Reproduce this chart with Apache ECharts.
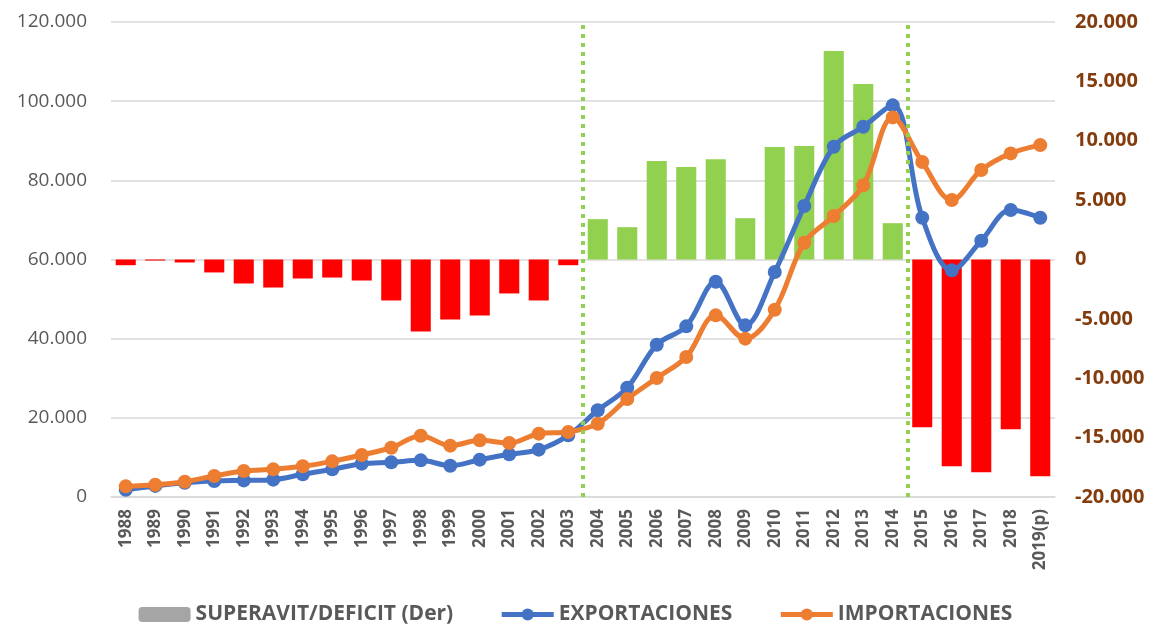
<!DOCTYPE html>
<html>
<head>
<meta charset="utf-8">
<script src="https://cdn.jsdelivr.net/npm/echarts@6/dist/echarts.min.js"></script>
<style>
  html, body { margin: 0; padding: 0; background: #fff; }
  #chart { width: 1151px; height: 626px; }
</style>
</head>
<body>
<div id="chart"></div>
<script>
// años
const years = ['1988','1989','1990','1991','1992','1993','1994','1995','1996','1997',
  '1998','1999','2000','2001','2002','2003','2004','2005','2006','2007','2008','2009',
  '2010','2011','2012','2013','2014','2015','2016','2017','2018','2019(p)'];

// saldo comercial (eje derecho)
const balance = [-480, -90, -250, -1090, -2020, -2360, -1600, -1520, -1770, -3450,
  -6060, -5050, -4710, -2860, -3450, -480, 3400, 2720, 8290, 7780, 8450, 3480,
  9470, 9550, 17560, 14780, 3060, -14130, -17420, -17920, -14300, -18260];

const exportaciones = [1850, 2800, 3600, 4040, 4200, 4380, 5730, 6990, 8420, 8760,
  9260, 7910, 9430, 10780, 11960, 15580, 21900, 27620, 38480, 43110, 54390, 43360,
  56840, 73500, 88500, 93550, 98940, 70560, 57260, 64750, 72500, 70560];

const importaciones = [2690, 3110, 3870, 5300, 6570, 6990, 7750, 9010, 10610, 12460,
  15490, 12970, 14310, 13640, 16000, 16420, 18520, 24750, 30060, 35360, 45890, 40000,
  47320, 64250, 70980, 78730, 95900, 84620, 75020, 82600, 86810, 88900];

// inicio de cada periodo (línea punteada)
const periodStarts = ['2004', '2015'];

const leftTicks = { min: 0, max: 120000, interval: 20000 };
const rightTicks = { min: -20000, max: 20000, interval: 5000 };

function miles(v) {
  return String(v).replace(/\B(?=(\d{3})+(?!\d))/g, '.');
}

const chart = echarts.init(document.getElementById('chart'));
const font = '"Open Sans", "DejaVu Sans", sans-serif';

chart.setOption({
  animation: false,
  textStyle: { fontFamily: font },
  grid: { left: 111, right: 96, top: 22, bottom: 129 },
  legend: {
    data: ['SUPERAVIT/DEFICIT (Der)', 'EXPORTACIONES', 'IMPORTACIONES'],
    top: 599,
    left: 'center',
    itemGap: 46,
    itemWidth: 52,
    itemHeight: 15,
    lineStyle: { width: 5 },
    textStyle: { fontSize: 21, fontWeight: 'bold', color: '#595959', fontFamily: font }
  },
  xAxis: [
    {
      type: 'category',
      data: years,
      axisLine: { lineStyle: { color: '#D9D9D9', width: 1.5 } },
      axisTick: { show: false },
      axisLabel: { rotate: 90, fontSize: 17, fontWeight: 'bold', color: '#595959', margin: 12 }
    },
    { type: 'value', min: 0, max: years.length, show: false }
  ],
  yAxis: [
    {
      type: 'value',
      min: leftTicks.min, max: leftTicks.max, interval: leftTicks.interval,
      axisLine: { show: false },
      axisTick: { show: false },
      splitLine: { lineStyle: { color: '#D9D9D9', width: 1.5 } },
      axisLabel: { formatter: miles, fontSize: 19, color: '#595959', margin: 24 }
    },
    {
      type: 'value',
      min: rightTicks.min, max: rightTicks.max, interval: rightTicks.interval,
      axisLine: { show: false },
      axisTick: { show: false },
      splitLine: { show: false },
      axisLabel: { formatter: miles, fontSize: 20, fontWeight: 'bold', color: '#843C0C', margin: 20 }
    }
  ],
  series: [
    {
      name: 'SUPERAVIT/DEFICIT (Der)',
      type: 'bar',
      yAxisIndex: 1,
      barWidth: '68%',
      itemStyle: { color: '#A5A5A5' },
      data: balance.map(v => ({ value: v, itemStyle: { color: v >= 0 ? '#92D050' : '#FF0000' } })),
      z: 1
    },
    {
      name: 'EXPORTACIONES',
      type: 'line',
      data: exportaciones,
      smooth: 0.35,
      symbol: 'circle',
      symbolSize: 14,
      lineStyle: { width: 5, color: '#4472C4' },
      itemStyle: { color: '#4472C4' },
      z: 3
    },
    {
      name: 'IMPORTACIONES',
      type: 'line',
      data: importaciones,
      smooth: 0.35,
      symbol: 'circle',
      symbolSize: 14,
      lineStyle: { width: 5, color: '#ED7D31' },
      itemStyle: { color: '#ED7D31' },
      z: 4
    },
    {
      name: 'periodos',
      type: 'line',
      xAxisIndex: 1,
      data: [],
      markLine: {
        silent: true,
        symbol: 'none',
        label: { show: false },
        lineStyle: { color: '#92D050', width: 4, type: [4, 5] },
        data: periodStarts.map(y => ({ xAxis: years.indexOf(y) }))
      },
      z: 5
    }
  ]
});
</script>
</body>
</html>
